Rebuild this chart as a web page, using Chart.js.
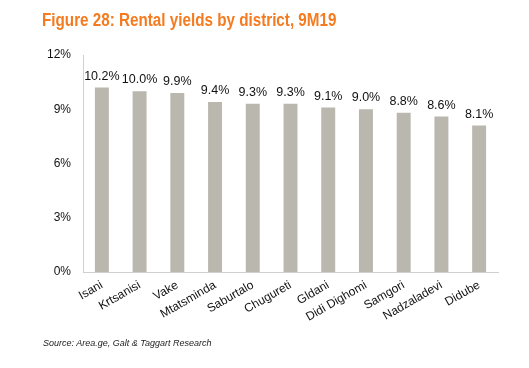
<!DOCTYPE html>
<html lang="en">
<head>
<meta charset="UTF-8">
<title>Rental yields by district</title>
<script src="https://cdn.jsdelivr.net/npm/chart.js"></script>
<style>
    body { margin: 0; background: #fff; font-family: "Liberation Sans", Arial, sans-serif; }
    .wrap { position: relative; width: 529px; height: 368px; }
    .title { position: absolute; left: 42px; top: 10px; color: #F47B20; font-weight: bold; font-size: 17.5px;
             white-space: nowrap; transform: scaleX(0.87); transform-origin: left top; }
    .source { position: absolute; left: 43px; top: 338px; color: #222; font-style: italic; font-size: 9px; }
    canvas { position: absolute; left: 0; top: 0; }
</style>
</head>
<body>
<div class="wrap">
    <canvas id="chart" width="529" height="368"></canvas>
    <div class="title">Figure 28: Rental yields by district, 9M19</div>
    <div class="source">Source: Area.ge, Galt &amp; Taggart Research</div>
</div>
<script>
    const districts = ['Isani', 'Krtsanisi', 'Vake', 'Mtatsminda', 'Saburtalo', 'Chugureti', 'Gldani', 'Didi Dighomi', 'Samgori', 'Nadzaladevi', 'Didube'];
    const yields = [10.2, 10.0, 9.9, 9.4, 9.3, 9.3, 9.1, 9.0, 8.8, 8.6, 8.1];
    const yTicks = [0, 3, 6, 9, 12];

    // value labels above the bars
    const barLabels = {
        id: 'barLabels',
        afterDatasetsDraw(chart) {
            const ctx = chart.ctx;
            const meta = chart.getDatasetMeta(0);
            ctx.save();
            ctx.font = '12.5px "Liberation Sans", Arial, sans-serif';
            ctx.fillStyle = '#111';
            ctx.textAlign = 'center';
            ctx.textBaseline = 'bottom';
            meta.data.forEach((bar, i) => {
                ctx.fillText(yields[i].toFixed(1) + '%', bar.x, bar.y - 5);
            });
            ctx.restore();
        }
    };

    new Chart(document.getElementById('chart'), {
        type: 'bar',
        data: {
            labels: districts,
            datasets: [{
                data: yields,
                backgroundColor: '#BAB7AE',
                barPercentage: 0.37,
                categoryPercentage: 1
            }]
        },
        options: {
            responsive: false,
            animation: false,
            layout: { padding: { left: 20, right: 31, top: 55, bottom: 0 } },
            plugins: { legend: { display: false }, tooltip: { enabled: false } },
            scales: {
                x: {
                    grid: { display: false, drawTicks: false },
                    border: { color: '#d0d0d0' },
                    ticks: {
                        color: '#111',
                        font: { size: 12, family: '"Liberation Sans", Arial, sans-serif' },
                        minRotation: 30, maxRotation: 30, autoSkip: false, padding: 6
                    },
                    afterFit(scale) { scale.height = 96; }
                },
                y: {
                    min: 0, max: 12,
                    afterBuildTicks(scale) { scale.ticks = yTicks.map(v => ({ value: v })); },
                    grid: { display: false, drawTicks: false },
                    border: { color: '#d0d0d0' },
                    ticks: {
                        color: '#111',
                        font: { size: 12, family: '"Liberation Sans", Arial, sans-serif' },
                        padding: 12,
                        callback: v => v + '%'
                    },
                    afterFit(scale) { scale.width = 63; }
                }
            }
        },
        plugins: [barLabels]
    });
</script>
</body>
</html>
